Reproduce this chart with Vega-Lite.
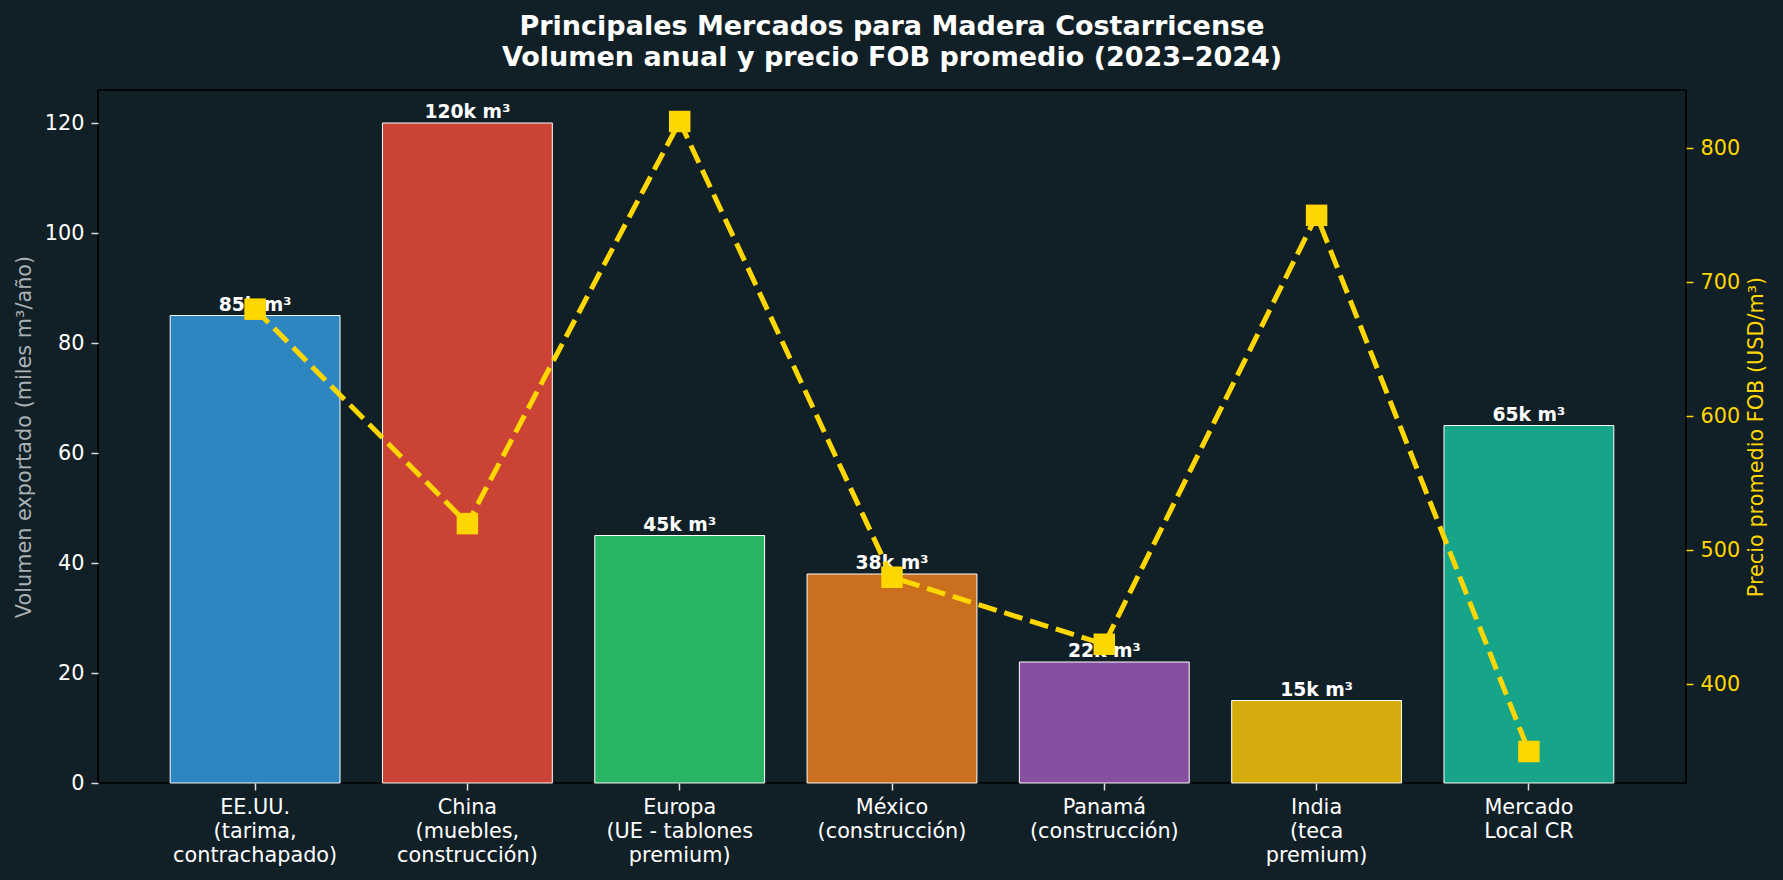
{
  "$schema": "https://vega.github.io/schema/vega-lite/v6.json",
  "width": 1588,
  "height": 693,
  "autosize": {"type": "none"},
  "padding": {"left": 98, "top": 90, "right": 97, "bottom": 97},
  "background": "#111f27",
  "config": {
    "font": "DejaVu Sans",
    "view": {"stroke": "#000000", "strokeWidth": 1.7},
    "axis": {
      "labelFont": "DejaVu Sans",
      "titleFont": "DejaVu Sans",
      "labelFontSize": 20.8,
      "titleFontSize": 20.8,
      "titleFontWeight": "normal",
      "grid": false,
      "domain": false,
      "tickSize": 7,
      "tickWidth": 1.5,
      "labelPadding": 7
    }
  },
  "title": {
    "text": ["Principales Mercados para Madera Costarricense", "Volumen anual y precio FOB promedio (2023–2024)"],
    "font": "DejaVu Sans",
    "fontSize": 27,
    "fontWeight": "bold",
    "color": "#ffffff",
    "anchor": "middle",
    "frame": "group",
    "lineHeight": 31,
    "offset": 18
  },
  "data": {
    "values": [
      {"mercado": "EE.UU.|(tarima,|contrachapado)", "volumen": 85, "precio": 680, "etiqueta": "85k m³"},
      {"mercado": "China|(muebles,|construcción)", "volumen": 120, "precio": 520, "etiqueta": "120k m³"},
      {"mercado": "Europa|(UE - tablones|premium)", "volumen": 45, "precio": 820, "etiqueta": "45k m³"},
      {"mercado": "México|(construcción)", "volumen": 38, "precio": 480, "etiqueta": "38k m³"},
      {"mercado": "Panamá|(construcción)", "volumen": 22, "precio": 430, "etiqueta": "22k m³"},
      {"mercado": "India|(teca|premium)", "volumen": 15, "precio": 750, "etiqueta": "15k m³"},
      {"mercado": "Mercado|Local CR", "volumen": 65, "precio": 350, "etiqueta": "65k m³"}
    ]
  },
  "encoding": {
    "x": {
      "field": "mercado",
      "type": "nominal",
      "sort": null,
      "title": null,
      "scale": {"paddingInner": 0.2, "paddingOuter": 0.34},
      "axis": {
        "labelAngle": 0,
        "labelColor": "#ffffff",
        "tickColor": "#dddddd",
        "labelLineHeight": 24,
        "labelExpr": "split(datum.value, '|')"
      }
    }
  },
  "layer": [
    {
      "encoding": {
        "y": {
          "field": "volumen",
          "type": "quantitative",
          "title": "Volumen exportado (miles m³/año)",
          "scale": {"domain": [0, 126], "nice": false, "zero": true},
          "axis": {
            "values": [0, 20, 40, 60, 80, 100, 120],
            "labelColor": "#ffffff",
            "tickColor": "#dddddd",
            "titleColor": "#aab2b5",
            "titlePadding": 10
          }
        }
      },
      "layer": [
        {
          "mark": {"type": "bar", "stroke": "#ffffff", "strokeWidth": 1},
          "encoding": {
            "color": {
              "field": "mercado",
              "type": "nominal",
              "sort": null,
              "legend": null,
              "scale": {
                "domain": [
                  "EE.UU.|(tarima,|contrachapado)",
                  "China|(muebles,|construcción)",
                  "Europa|(UE - tablones|premium)",
                  "México|(construcción)",
                  "Panamá|(construcción)",
                  "India|(teca|premium)",
                  "Mercado|Local CR"
                ],
                "range": ["#2E86C1", "#CB4335", "#28B463", "#CA6F1E", "#884EA0", "#D4AC0D", "#17A589"]
              }
            }
          }
        },
        {
          "mark": {
            "type": "text",
            "font": "DejaVu Sans",
            "fontSize": 18.75,
            "fontWeight": "bold",
            "color": "#ffffff",
            "baseline": "alphabetic",
            "dy": -5
          },
          "encoding": {"text": {"field": "etiqueta"}}
        }
      ]
    },
    {
      "encoding": {
        "y": {
          "field": "precio",
          "type": "quantitative",
          "title": "Precio promedio FOB (USD/m³)",
          "scale": {"domain": [326.5, 843.5], "nice": false, "zero": false},
          "axis": {
            "orient": "right",
            "values": [400, 500, 600, 700, 800],
            "labelColor": "#FFD700",
            "tickColor": "#FFD700",
            "titleColor": "#FFD700",
            "titleAngle": 270,
            "titleBaseline": "top",
            "titlePadding": 7
          }
        }
      },
      "layer": [
        {
          "mark": {"type": "line", "color": "#FFD700", "strokeWidth": 5, "strokeDash": [19, 8]}
        },
        {
          "mark": {"type": "point", "shape": "square", "filled": true, "size": 462, "color": "#FFD700", "opacity": 1}
        }
      ]
    }
  ],
  "resolve": {"scale": {"y": "independent"}}
}
